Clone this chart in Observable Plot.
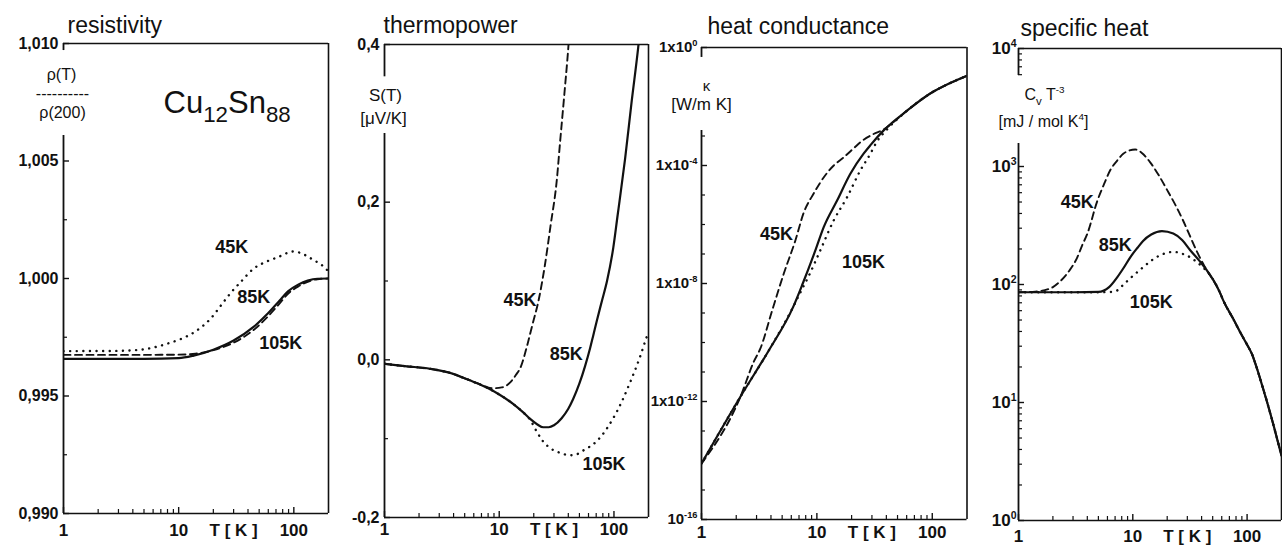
<!DOCTYPE html>
<html><head><meta charset="utf-8">
<script src="https://cdn.jsdelivr.net/npm/d3@7"></script>
<script src="https://cdn.jsdelivr.net/npm/@observablehq/plot@0.6"></script>
<style>
html,body{margin:0;padding:0;background:#fff;}
#wrap{position:relative;width:1282px;height:546px;overflow:hidden;background:#fff;}
#wrap svg{position:absolute;top:0;overflow:visible;}
</style></head>
<body><div id="wrap"></div>
<script>
// ---------- shared x axis (temperature, log) ----------
const T_TICKS = [1, 10, 100];
const T_MINOR = [2, 3, 4, 5, 6, 7, 8, 9, 20, 30, 40, 50, 60, 70, 80, 90];
const SERIES = ["45K", "85K", "105K"];

// ---------- resistivity rho(T)/rho(200) ----------
const rho45 = [[1,0.99691],[3,0.99692],[4.7,0.99697],[6,0.99706],[8,0.99723],[10.5,0.99743],[13.5,0.9977],[19,0.9983],[24,0.99894],[28,0.99936],[35,0.99988],[45,1.00043],[58,1.00072],[72,1.0009],[100,1.00115],[125,1.001],[150,1.00077],[172,1.0006],[200,1.0003]];
const rho85 = [[1,0.99658],[5,0.99658],[10,0.99661],[13.5,0.99672],[20,0.99697],[30,0.99736],[45,0.99795],[60,0.99853],[75,0.99905],[89,0.99945],[110,0.99975],[132,0.99991],[160,0.99999],[200,1.0]];
const rho105 = [[1,0.99675],[5,0.99675],[10,0.99676],[14,0.9968],[20,0.99695],[30,0.99727],[45,0.99782],[60,0.9984],[75,0.99893],[89,0.99935],[110,0.99967],[132,0.99986],[160,0.99997],[200,1.0]];
const rhoTicks = [0.990, 0.995, 1.000, 1.005, 1.010];
const rhoTickLabels = ["0,990", "0,995", "1,000", "1,005", "1,010"];
const rhoMinor = [0.9925, 0.9975, 1.0025, 1.0075];
const rhoAxisGap = [1.00609, 1.0097];
const rhoLabelT = [28.9, 44.9, 77];
const rhoLabelV = [1.00132, 0.99919, 0.99723];

// ---------- thermopower S(T) ----------
const S45 = [[1,-0.005],[1.5,-0.008],[2.5,-0.0114],[4,-0.018],[4.87,-0.0228],[6.5,-0.03],[7.8,-0.0345],[8.9,-0.036],[10.5,-0.035],[12.4,-0.029],[14,-0.019],[15.5,-0.008],[17.5,0.018],[19.5,0.045],[22,0.075],[25,0.12],[28,0.17],[31.7,0.227],[34,0.278],[37,0.338],[40,0.396],[42,0.44]];
const S85 = [[1,-0.005],[1.5,-0.008],[2.5,-0.0114],[4,-0.018],[4.87,-0.0228],[6,-0.028],[7.86,-0.0355],[10,-0.044],[13.2,-0.0558],[16,-0.066],[18.6,-0.075],[21.5,-0.082],[24.2,-0.0855],[27,-0.0855],[30,-0.083],[35,-0.074],[40,-0.062],[44,-0.05],[50,-0.03],[56,-0.008],[62,0.015],[66,0.031],[71,0.05],[78.6,0.075],[87,0.1],[98.6,0.142],[108,0.185],[112,0.202],[125,0.255],[143,0.329],[162.6,0.396],[172,0.43]];
const S105 = [[1,-0.005],[1.5,-0.008],[2.5,-0.0114],[4,-0.018],[4.87,-0.0228],[6,-0.028],[7.86,-0.0355],[10,-0.044],[13.2,-0.0558],[16,-0.066],[18.6,-0.076],[21.4,-0.092],[24,-0.103],[27.8,-0.112],[34,-0.118],[41.5,-0.121],[47,-0.12],[54,-0.115],[71,-0.103],[85,-0.089],[98.6,-0.074],[117,-0.053],[137,-0.03],[168,0.003],[194,0.03],[200,0.035]];
const STicks = [-0.2, 0.0, 0.2, 0.4];
const STickLabels = ["-0,2", "0,0", "0,2", "0,4"];
const SMinor = [-0.1, 0.1, 0.3];
const SAxisGap = [0.287, 0.359];
const SLabelT = [15.2, 38.3, 82];
const SLabelV = [0.075, 0.0076, -0.133];

// ---------- heat conductance kappa [W/m K] ----------
const K45 = [[1,7.9e-15],[2.18,1.48e-12],[2.84,2.24e-11],[3.24,6.3e-11],[4.09,1.2e-9],[5.16,2.14e-8],[6.51,2.88e-7],[7.69,2.51e-6],[9.38,1.12e-5],[12.25,5.6e-5],[14,1e-4],[17.1,1.9e-4],[20.8,3.8e-4],[24,6.3e-4],[31,1.17e-3],[37.9,1.66e-3],[45,2.75e-3],[60.4,7.2e-3],[96,2.75e-2],[140,6.0e-2],[200,0.11]];
const K85 = [[1,7.9e-15],[2.18,1.48e-12],[3.83,5.37e-11],[6.22,1.58e-9],[7.53,9.8e-9],[9.7,1.32e-7],[11.46,8.1e-7],[14.96,6.46e-6],[19.5,5.25e-5],[25.4,2.51e-4],[29,4.8e-4],[37.9,1.55e-3],[60.4,7.2e-3],[96,2.75e-2],[140,6.0e-2],[200,0.11]];
const K105 = [[1,7.9e-15],[2.18,1.48e-12],[3.83,5.37e-11],[6.22,1.58e-9],[7.2,5.0e-9],[8.49,1.78e-8],[10.7,1.32e-7],[14,1.38e-6],[18.3,8.5e-6],[23.8,6.8e-5],[29.1,2.51e-4],[33,6.3e-4],[40.5,1.66e-3],[60.4,7.2e-3],[96,2.75e-2],[140,6.0e-2],[200,0.11]];
const KTicks = [1e-16, 1e-12, 1e-8, 1e-4, 1];
const KTickLabels = ["10^{-16}", "1x10^{-12}", "1x10^{-8}", "1x10^{-4}", "1x10^{0}"];
const KMinor = [1e-15,1e-14,1e-13,1e-11,1e-10,1e-9,1e-7,1e-6,1e-5,1e-3,1e-2,1e-1];
const KAxisGap = [1.55e-3, 0.46];
const KLabels = ["45K", "105K"];
const KLabelT = [4.46, 25.3];
const KLabelV = [4.6e-7, 5.1e-8];

// ---------- specific heat Cv T^-3 [mJ/mol K^4] ----------
const C45 = [[1,86],[1.4,87],[1.65,89],[2,95],[2.33,107],[2.8,132],[3.27,170],[3.6,214],[4,269],[4.9,513],[5.6,708],[6.36,933],[7.3,1122],[8.3,1288],[9.3,1365],[10.5,1393],[12,1303],[14.2,1084],[17,832],[20,631],[24,457],[27.6,347],[32,251],[36.6,188],[42,145],[47.5,119],[51,107],[58,85],[62,73],[76,50.7],[87,39.4],[100,30.9],[110,25.9],[120,20.4],[135,14.1],[150,10],[170,6.46],[185,4.73],[200,3.55]];
const C85 = [[1,86],[3,86],[5,86.5],[6.2,95],[7.3,115],[8.3,138],[9.5,170],[11,205],[12.3,234],[14.5,265],[18,283],[22.6,270],[27,238],[31.8,195],[38,160],[44.5,132],[51,108],[58,85],[62,73],[76,50.7],[87,39.4],[100,30.9],[110,25.9],[120,20.4],[135,14.1],[150,10],[170,6.46],[185,4.73],[200,3.55]];
const C105 = [[1,86],[5,86],[6.5,86.5],[7.3,89],[8.3,100],[10,118],[12.3,140],[15,163],[18.6,182],[21.5,188],[24.3,188],[28,180],[31.8,170],[36,156],[41,140],[47.5,120],[51,108],[58,85],[62,73],[76,50.7],[87,39.4],[100,30.9],[110,25.9],[120,20.4],[135,14.1],[150,10],[170,6.46],[185,4.73],[200,3.55]];
const CTicks = [1, 10, 100, 1000, 10000];
const CTickLabels = ["10^{0}", "10^{1}", "10^{2}", "10^{3}", "10^{4}"];
const CMinor = [2,3,4,5,6,7,8,9,20,30,40,50,60,70,80,90,200,300,400,500,600,700,800,900,2000,3000,4000,5000,6000,7000,8000,9000];
const CAxisGap = [1570, 5900];
const CLabelT = [3.27, 7.03, 14.5];
const CLabelV = [495, 214, 70.3];

// ---------- rendering ----------
const H = 546;
const INK = "#111";
const FONT = "'Liberation Sans', Arial, Helvetica, sans-serif";
const LINE = {
  solid: {strokeWidth: 2.2},
  dashed: {strokeWidth: 1.9, strokeDasharray: "7,4.5"},
  dotted: {strokeWidth: 2.4, strokeDasharray: "0.1,6.5", strokeLinecap: "round"}
};

function label(t, o) {
  return Plot.text([t], Object.assign({text: d => d, frameAnchor: "top-left", textAnchor: "middle", lineAnchor: "middle", fill: INK}, o));
}

function panel(o) {
  const fw = o.width - o.ml - o.mr, fh = H - o.mt - o.mb;
  const [ylo, yhi] = o.yDomain;
  const segs = [[ylo, o.gap[0]], [o.gap[1], yhi]];
  const outside = v => v < o.gap[0] || v > o.gap[1];
  const marks = [
    Plot.ruleY([yhi], {stroke: INK, strokeWidth: 1.6}),
    Plot.ruleY([ylo], {stroke: INK, strokeWidth: 1.7}),
    Plot.ruleX([200], {stroke: INK, strokeWidth: 1.6}),
    Plot.ruleX(segs, {x: () => 1, y1: d => d[0], y2: d => d[1], stroke: INK, strokeWidth: 1.8}),
    Plot.tickX(T_MINOR, {x: d => d, insetTop: fh - 4, stroke: INK, strokeWidth: 1.2}),
    Plot.tickX(T_TICKS, {x: d => d, insetTop: fh - 6, stroke: INK, strokeWidth: 1.4}),
    Plot.tickY(o.yMinor.filter(outside), {y: d => d, insetRight: fw - 4, stroke: INK, strokeWidth: 1.2}),
    Plot.tickY(o.yTicks, {y: d => d, insetRight: fw - 6, stroke: INK, strokeWidth: 1.4}),
    Plot.axisX(T_TICKS, {tickSize: 0, tickPadding: o.xPad, tickFormat: d => String(d), fontSize: 17, fontWeight: "bold", label: null, fill: INK}),
    Plot.axisY(o.yTicks, {tickSize: 0, tickPadding: o.yPad, tickFormat: d => o.yTickLabels[o.yTicks.indexOf(d)], fontSize: o.yFont, fontWeight: "bold", label: null, fill: INK}),
    Plot.text(["T [ K ]"], {x: () => 30, text: d => d, frameAnchor: "bottom", lineAnchor: "top", dy: o.xPad, fontSize: 17, fontWeight: "bold", fill: INK}),
    Plot.text([o.title], {text: d => d, frameAnchor: "top-left", textAnchor: "start", lineAnchor: "bottom", dx: o.titleDx, dy: o.titleDy, fontSize: 23, fill: INK}),
    ...o.extra
  ];
  o.order.forEach(k => {
    marks.push(Plot.line(o.data[k], Object.assign({x: d => d[0], y: d => d[1], curve: "monotone-x", clip: true, stroke: INK, fill: "none"}, LINE[o.style[k]])));
  });
  marks.push(Plot.text(o.labels, {x: (d, i) => o.labelT[i], y: (d, i) => o.labelV[i], text: d => d, fontSize: 18, fontWeight: "bold", fill: INK}));
  const svg = Plot.plot({
    width: o.width, height: H,
    marginLeft: o.ml, marginRight: o.mr, marginTop: o.mt, marginBottom: o.mb,
    x: {type: "log", domain: [1, 200]},
    y: {type: o.yType, domain: o.yDomain},
    style: {fontFamily: FONT, fontSize: "16px", background: "transparent", overflow: "visible", color: INK},
    marks
  });
  svg.style.left = o.left + "px";
  document.getElementById("wrap").appendChild(svg);
  richText(svg);
}

// turn ^{..} and _{..} markup into raised / lowered tspans
function richText(svg) {
  const NS = "http://www.w3.org/2000/svg";
  svg.querySelectorAll("text").forEach(t => {
    const s = t.textContent;
    if (!/[\^_]\{/.test(s)) return;
    const fs = parseFloat(getComputedStyle(t).fontSize) || 16;
    while (t.firstChild) t.removeChild(t.firstChild);
    const re = /([\^_])\{([^}]*)\}|([^\^_]+)/g;
    let m, cur = 0;
    while ((m = re.exec(s))) {
      const ts = document.createElementNS(NS, "tspan");
      let shift = 0;
      if (m[1]) {
        const sup = m[1] === "^";
        shift = sup ? 0.42 * fs : -0.32 * fs;
        ts.setAttribute("font-size", ((sup ? 0.62 : 0.72) * fs).toFixed(1));
        ts.textContent = m[2];
      } else ts.textContent = m[3];
      ts.setAttribute("dy", (cur - shift).toFixed(2));
      cur = shift;
      t.appendChild(ts);
    }
  });
}

panel({
  left: 0, width: 330, ml: 63, mr: 2, mt: 43, mb: 33,
  yType: "linear", yDomain: [0.990, 1.010], yTicks: rhoTicks, yTickLabels: rhoTickLabels, yMinor: rhoMinor, gap: rhoAxisGap,
  yFont: 16, yPad: 5, xPad: 10,
  title: "resistivity", titleDx: 4, titleDy: -11,
  data: {"45K": rho45, "85K": rho85, "105K": rho105},
  style: {"45K": "dotted", "85K": "solid", "105K": "dashed"},
  order: ["45K", "105K", "85K"],
  labels: SERIES, labelT: rhoLabelT, labelV: rhoLabelV,
  extra: [
    label("ρ(T)", {dx: -2, dy: 31, fontSize: 16}),
    label("----------", {dx: -1, dy: 50, fontSize: 16}),
    label("ρ(200)", {dx: -1, dy: 69, fontSize: 16}),
    label("Cu_{12}Sn_{88}", {dx: 100, dy: 69, textAnchor: "start", lineAnchor: "bottom", fontSize: 31})
  ]
});

panel({
  left: 330, width: 320, ml: 54, mr: 2, mt: 44, mb: 29,
  yType: "linear", yDomain: [-0.2, 0.4], yTicks: STicks, yTickLabels: STickLabels, yMinor: SMinor, gap: SAxisGap,
  yFont: 16, yPad: 5, xPad: 5,
  title: "thermopower", titleDx: -1, titleDy: -12,
  data: {"45K": S45, "85K": S85, "105K": S105},
  style: {"45K": "dashed", "85K": "solid", "105K": "dotted"},
  order: ["45K", "105K", "85K"],
  labels: SERIES, labelT: SLabelT, labelV: SLabelV,
  extra: [
    label("S(T)", {dx: 1, dy: 51, fontSize: 17}),
    label("[μV/K]", {dx: -1, dy: 74, fontSize: 17})
  ]
});

panel({
  left: 650, width: 318, ml: 51, mr: 1.5, mt: 47, mb: 27,
  yType: "log", yDomain: [1e-16, 1], yTicks: KTicks, yTickLabels: KTickLabels, yMinor: KMinor, gap: KAxisGap,
  yFont: 15, yPad: 4, xPad: 6,
  title: "heat conductance", titleDx: 6, titleDy: -14,
  data: {"45K": K45, "85K": K85, "105K": K105},
  style: {"45K": "dashed", "85K": "solid", "105K": "dotted"},
  order: ["45K", "105K", "85K"],
  labels: KLabels, labelT: KLabelT, labelV: KLabelV,
  extra: [
    label("κ", {dx: 5, dy: 39, fontSize: 15}),
    label("[W/m K]", {dx: 0, dy: 57, fontSize: 17})
  ]
});

panel({
  left: 968, width: 314, ml: 50, mr: 1, mt: 48, mb: 26,
  yType: "log", yDomain: [1, 10000], yTicks: CTicks, yTickLabels: CTickLabels, yMinor: CMinor, gap: CAxisGap,
  yFont: 17, yPad: 2, xPad: 9,
  title: "specific heat", titleDx: 2, titleDy: -13,
  data: {"45K": C45, "85K": C85, "105K": C105},
  style: {"45K": "dashed", "85K": "solid", "105K": "dotted"},
  order: ["45K", "105K", "85K"],
  labels: SERIES, labelT: CLabelT, labelV: CLabelV,
  extra: [
    label("C_{v} T^{-3}", {dx: 26, dy: 46, fontSize: 16}),
    label("[mJ / mol K^{4}]", {dx: 25, dy: 73, fontSize: 16})
  ]
});
</script>
</body></html>
